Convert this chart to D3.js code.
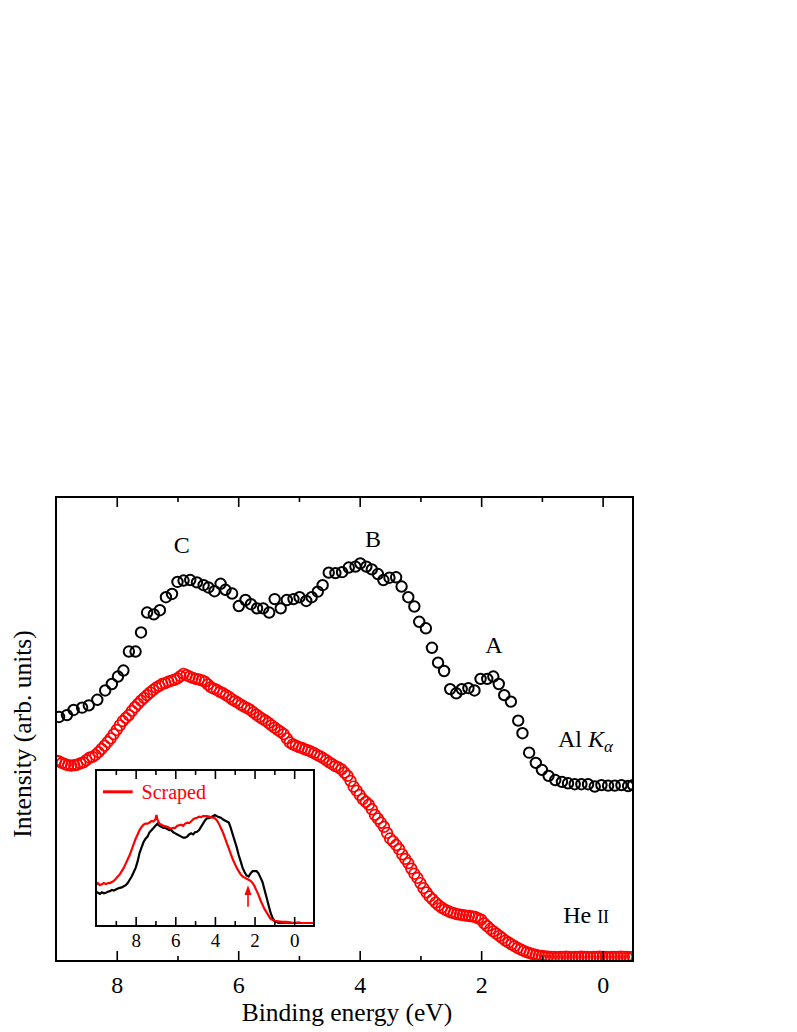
<!DOCTYPE html>
<html>
<head>
<meta charset="utf-8">
<script src="https://cdn.jsdelivr.net/npm/d3@7"></script>
<style>
body { margin: 0; background: #fff; }
svg text { font-family: "Liberation Serif", "Times New Roman", "DejaVu Serif", serif; }
</style>
</head>
<body>
<div id="chart"></div>
<script>
// Al K-alpha spectrum (open black circles): [binding energy eV, intensity]
var alKa = [[8.95,52.6],[8.82,53.0],[8.71,54.1],[8.57,54.6],[8.46,55.1],[8.32,56.3],[8.19,58.3],[8.08,59.7],[7.98,61.3],[7.89,62.6],
  [7.80,66.7],[7.69,66.7],[7.60,70.8],[7.50,75.1],[7.39,74.7],[7.29,75.6],[7.19,78.4],[7.09,79.1],[7.00,81.7],[6.90,82.0],
  [6.79,82.1],[6.68,81.6],[6.57,81.0],[6.49,80.5],[6.39,79.7],[6.29,81.3],[6.21,80.0],[6.10,79.2],[5.99,76.5],[5.88,77.8],
  [5.79,76.9],[5.69,76.0],[5.59,76.0],[5.49,75.1],[5.40,78.0],[5.30,76.0],[5.20,77.8],[5.09,78.0],[4.99,78.4],[4.88,77.6],
  [4.79,78.4],[4.69,79.6],[4.61,81.0],[4.51,83.7],[4.40,83.6],[4.29,83.8],[4.18,84.8],[4.07,85.0],[3.99,85.7],[3.89,85.0],
  [3.80,84.4],[3.70,83.4],[3.61,82.1],[3.51,82.6],[3.40,82.7],[3.31,80.7],[3.20,78.4],[3.10,76.4],[3.02,73.1],[2.91,71.7],
  [2.81,67.5],[2.71,64.3],[2.61,62.5],[2.51,58.6],[2.41,57.7],[2.32,58.6],[2.21,58.8],[2.11,58.3],[2.01,60.8],[1.90,60.8],
  [1.80,61.3],[1.71,59.7],[1.62,57.3],[1.51,55.9],[1.39,51.8],[1.32,49.1],[1.21,44.9],[1.10,42.7],[1.00,41.2],[0.89,39.9],
  [0.78,39.0],[0.67,38.6],[0.57,38.3],[0.46,38.1],[0.35,38.1],[0.24,38.1],[0.13,37.6],[0.02,37.9],[-0.09,37.8],[-0.20,37.8],
  [-0.31,37.9],[-0.42,37.7],[-0.50,37.9]];

// He II spectrum (open red circles)
var heII = [[9.00,43.2],[8.95,43.0],[8.90,42.7],[8.85,42.4],[8.80,42.2],[8.75,42.1],[8.70,42.2],[8.65,42.3],[8.60,42.6],[8.55,42.8],
  [8.50,43.3],[8.45,43.8],[8.40,44.0],[8.35,44.4],[8.30,45.0],[8.25,45.7],[8.20,46.4],[8.15,47.2],[8.10,48.0],[8.05,48.9],
  [8.00,49.8],[7.95,50.8],[7.90,51.7],[7.85,52.4],[7.80,53.0],[7.75,53.9],[7.70,54.7],[7.65,55.4],[7.60,56.1],[7.55,56.7],
  [7.50,57.3],[7.45,57.9],[7.40,58.4],[7.35,58.9],[7.30,59.3],[7.25,59.7],[7.20,59.9],[7.15,60.2],[7.10,60.4],[7.05,60.6],
  [7.00,60.9],[6.95,61.4],[6.90,61.9],[6.85,61.6],[6.80,61.3],[6.75,61.0],[6.70,60.8],[6.65,60.7],[6.60,60.5],[6.55,60.2],
  [6.50,59.6],[6.45,59.0],[6.40,58.7],[6.35,58.4],[6.30,58.0],[6.25,57.7],[6.20,57.3],[6.15,56.9],[6.10,56.4],[6.05,56.0],
  [6.00,55.6],[5.95,55.2],[5.90,54.8],[5.85,54.5],[5.80,54.1],[5.75,53.6],[5.70,53.1],[5.65,52.6],[5.60,52.2],[5.55,51.8],
  [5.50,51.3],[5.45,50.8],[5.40,50.3],[5.35,49.8],[5.30,49.4],[5.25,48.9],[5.20,48.0],[5.15,47.1],[5.10,46.7],[5.05,46.4],
  [5.00,46.1],[4.95,45.9],[4.90,45.6],[4.85,45.4],[4.80,45.1],[4.75,44.8],[4.70,44.4],[4.65,44.1],[4.60,43.7],[4.55,43.3],
  [4.50,42.8],[4.45,42.4],[4.40,42.0],[4.35,41.7],[4.30,41.3],[4.25,40.6],[4.20,39.9],[4.15,38.8],[4.10,37.6],[4.05,36.7],
  [4.00,35.8],[3.95,34.9],[3.90,34.3],[3.85,33.7],[3.80,32.7],[3.75,31.5],[3.70,30.7],[3.65,29.8],[3.60,28.9],[3.55,27.6],
  [3.50,26.4],[3.45,25.8],[3.40,25.0],[3.35,24.1],[3.30,23.0],[3.25,22.0],[3.20,21.1],[3.15,19.9],[3.10,18.8],[3.05,17.9],
  [3.00,16.8],[2.95,15.7],[2.90,14.8],[2.85,13.9],[2.80,13.3],[2.75,12.6],[2.70,12.0],[2.65,11.5],[2.60,11.1],[2.55,10.8],
  [2.50,10.5],[2.45,10.3],[2.40,10.1],[2.35,10.0],[2.30,9.9],[2.25,9.8],[2.20,9.7],[2.15,9.6],[2.10,9.5],[2.05,9.2],
  [2.00,8.9],[1.95,8.1],[1.90,7.5],[1.85,6.9],[1.80,6.4],[1.75,5.9],[1.70,5.4],[1.65,4.9],[1.60,4.4],[1.55,4.0],
  [1.50,3.6],[1.45,3.2],[1.40,2.8],[1.35,2.5],[1.30,2.2],[1.25,1.9],[1.20,1.7],[1.15,1.5],[1.10,1.3],[1.05,1.15],
  [1.00,1.1],[0.95,1.0],[0.90,0.95],[0.85,0.9],[0.80,0.9],[0.75,0.85],[0.70,0.9],[0.65,0.9],[0.60,0.95],[0.55,0.9],
  [0.50,0.85],[0.45,0.9],[0.40,0.9],[0.35,0.95],[0.30,0.9],[0.25,0.9],[0.20,0.85],[0.15,0.9],[0.10,0.9],[0.05,0.95],
  [0.00,0.9],[-0.05,0.9],[-0.10,0.85],[-0.15,0.9],[-0.20,0.9],[-0.25,0.9],[-0.30,0.95],[-0.35,0.9],[-0.40,0.9],[-0.45,0.85],
  [-0.50,0.9]];

// inset: normalised spectra
var insetBlack = [[10.0,0.29],[9.9,0.28],[9.8,0.27],[9.7,0.285],[9.6,0.275],[9.5,0.28],[9.4,0.29],[9.3,0.295],[9.2,0.305],[9.1,0.30],
  [9.0,0.31],[8.9,0.32],[8.8,0.325],[8.7,0.33],[8.6,0.34],[8.5,0.35],[8.4,0.37],[8.3,0.40],[8.2,0.43],[8.1,0.47],
  [8.0,0.51],[7.9,0.57],[7.8,0.65],[7.7,0.70],[7.6,0.75],[7.5,0.78],[7.4,0.80],[7.3,0.84],[7.2,0.86],[7.1,0.88],
  [7.0,0.90],[6.9,0.92],[6.8,0.90],[6.7,0.89],[6.6,0.88],[6.5,0.88],[6.4,0.87],[6.3,0.86],[6.2,0.86],[6.1,0.84],
  [6.0,0.83],[5.9,0.82],[5.8,0.81],[5.7,0.80],[5.6,0.79],[5.5,0.79],[5.4,0.80],[5.3,0.82],[5.2,0.83],[5.1,0.82],
  [5.0,0.84],[4.9,0.845],[4.8,0.86],[4.7,0.89],[4.6,0.92],[4.5,0.95],[4.4,0.97],[4.3,0.97],[4.2,0.98],[4.1,0.99],
  [4.0,1.0],[3.9,0.99],[3.8,0.98],[3.7,0.975],[3.6,0.96],[3.5,0.95],[3.4,0.94],[3.3,0.93],[3.2,0.88],[3.1,0.82],
  [3.0,0.76],[2.9,0.70],[2.8,0.63],[2.7,0.57],[2.6,0.51],[2.5,0.47],[2.4,0.44],[2.3,0.43],[2.2,0.46],[2.1,0.48],
  [2.0,0.48],[1.9,0.48],[1.8,0.46],[1.7,0.42],[1.6,0.38],[1.5,0.31],[1.4,0.24],[1.3,0.17],[1.2,0.10],[1.1,0.05],
  [1.0,0.02],[0.9,0.01],[0.8,0.0],[0.6,0.0],[0.4,0.005],[0.2,0.0],[0.0,0.0],[-0.2,0.0],[-0.4,0.0],[-0.6,0.0],
  [-0.8,0.0],[-1.0,0.0]];

var insetScraped = [[10.0,0.35],[9.9,0.37],[9.8,0.35],[9.7,0.36],[9.6,0.37],[9.5,0.36],[9.4,0.37],[9.3,0.37],[9.2,0.38],[9.1,0.39],
  [9.0,0.41],[8.9,0.43],[8.8,0.45],[8.7,0.48],[8.6,0.51],[8.5,0.55],[8.4,0.59],[8.3,0.63],[8.2,0.68],[8.1,0.73],
  [8.0,0.78],[7.9,0.82],[7.8,0.86],[7.7,0.89],[7.6,0.91],[7.5,0.92],[7.4,0.92],[7.3,0.93],[7.2,0.945],[7.1,0.94],
  [7.0,0.96],[6.95,1.0],[6.9,0.96],[6.8,0.92],[6.7,0.91],[6.6,0.90],[6.5,0.895],[6.4,0.89],[6.3,0.88],[6.2,0.875],
  [6.1,0.88],[6.0,0.88],[5.9,0.90],[5.8,0.905],[5.7,0.91],[5.6,0.90],[5.5,0.92],[5.4,0.93],[5.3,0.925],[5.2,0.94],
  [5.1,0.96],[5.0,0.97],[4.9,0.975],[4.8,0.985],[4.7,0.98],[4.6,0.99],[4.5,0.99],[4.4,0.99],[4.3,0.985],[4.2,0.98],
  [4.1,0.975],[4.0,0.97],[3.9,0.95],[3.8,0.92],[3.7,0.88],[3.6,0.84],[3.5,0.79],[3.4,0.74],[3.3,0.69],[3.2,0.64],
  [3.1,0.59],[3.0,0.55],[2.9,0.51],[2.8,0.48],[2.7,0.45],[2.6,0.43],[2.5,0.42],[2.4,0.41],[2.3,0.40],[2.2,0.39],
  [2.1,0.37],[2.0,0.34],[1.9,0.30],[1.8,0.26],[1.7,0.21],[1.6,0.17],[1.5,0.13],[1.4,0.10],[1.3,0.07],[1.2,0.04],
  [1.1,0.03],[1.0,0.02],[0.8,0.015],[0.6,0.01],[0.4,0.01],[0.2,0.005],[0.0,0.0],[-0.2,0.005],[-0.4,0.0],[-0.6,0.0],
  [-0.8,0.0],[-1.0,0.0]];

var majorTicks = [8, 6, 4, 2, 0];
var minorTicks = [7, 5, 3, 1];
var insetMajor = [8, 6, 4, 2, 0];
var insetMinor = [9, 7, 5, 3, 1];

// peak labels: [text, eV, intensity]
var peakLabels = [["C", 6.93, 87.9], ["B", 3.78, 89.2], ["A", 1.79, 66.4]];

var svg = d3.select("#chart").append("svg")
    .attr("width", 797).attr("height", 1032)
    .attr("font-family", "Liberation Serif, Times New Roman, serif");

var plot = {left: 56, right: 633, top: 497, bottom: 961};

var x = d3.scaleLinear().domain([9, -0.5]).range([plot.left, plot.right]);
var y = d3.scaleLinear().domain([0, 100]).range([plot.bottom, plot.top]);

svg.append("clipPath").attr("id", "clip")
  .append("rect")
    .attr("x", plot.left).attr("y", plot.top)
    .attr("width", plot.right - plot.left).attr("height", plot.bottom - plot.top);

var marks = svg.append("g").attr("clip-path", "url(#clip)");

marks.selectAll("circle.al")
    .data(alKa)
    .enter().append("circle")
    .attr("class", "al")
    .attr("cx", function(d) { return x(d[0]); })
    .attr("cy", function(d) { return y(d[1]); })
    .attr("r", 5.2)
    .style("fill", "none")
    .style("stroke", "#000")
    .style("stroke-width", 2);

marks.selectAll("circle.he")
    .data(heII)
    .enter().append("circle")
    .attr("class", "he")
    .attr("cx", function(d) { return x(d[0]); })
    .attr("cy", function(d) { return y(d[1]); })
    .attr("r", 5.3)
    .style("fill", "none")
    .style("stroke", "#f00")
    .style("stroke-width", 1.7);

// axes: ticks point inwards
function styleAxis(g) {
    g.attr("font-family", null);
    g.select(".domain").remove();
    g.selectAll(".tick line").attr("stroke", "#000").attr("stroke-width", 1.6);
    g.selectAll("text").attr("fill", "#000");
}

svg.append("g")
    .attr("transform", "translate(0," + plot.bottom + ")")
    .call(d3.axisBottom(x).tickValues(majorTicks).tickSize(-10).tickPadding(15).tickFormat(d3.format("d")))
    .call(styleAxis)
    .selectAll("text").style("font-size", "24px");

svg.append("g")
    .attr("transform", "translate(0," + plot.bottom + ")")
    .call(d3.axisBottom(x).tickValues(minorTicks).tickSize(-5).tickFormat(""))
    .call(styleAxis);

svg.append("g")
    .attr("transform", "translate(0," + plot.top + ")")
    .call(d3.axisTop(x).tickValues(majorTicks).tickSize(-10).tickFormat(""))
    .call(styleAxis);

svg.append("g")
    .attr("transform", "translate(0," + plot.top + ")")
    .call(d3.axisTop(x).tickValues(minorTicks).tickSize(-5).tickFormat(""))
    .call(styleAxis);

svg.append("rect")
    .attr("x", plot.left).attr("y", plot.top)
    .attr("width", plot.right - plot.left).attr("height", plot.bottom - plot.top)
    .style("fill", "none").style("stroke", "#000").style("stroke-width", 2);

// axis titles
svg.append("text")
    .attr("x", 347).attr("y", 1021)
    .attr("text-anchor", "middle")
    .style("font-size", "25.5px")
    .text("Binding energy (eV)");

svg.append("text")
    .attr("transform", "translate(31,734) rotate(-90)")
    .attr("text-anchor", "middle")
    .style("font-size", "25.5px")
    .text("Intensity (arb. units)");

// peak letters
svg.selectAll("text.peak")
    .data(peakLabels)
    .enter().append("text")
    .attr("class", "peak")
    .attr("x", function(d) { return x(d[1]); })
    .attr("y", function(d) { return y(d[2]); })
    .attr("text-anchor", "middle")
    .style("font-size", "24px")
    .text(function(d) { return d[0]; });

var alLabel = svg.append("text")
    .attr("x", x(0.735)).attr("y", y(46.2))
    .style("font-size", "24px");
alLabel.append("tspan").text("Al ");
alLabel.append("tspan").style("font-style", "italic").text("K");
alLabel.append("tspan").style("font-style", "italic").style("font-size", "17px")
    .attr("dy", 5).text("\u03b1");

var heLabel = svg.append("text")
    .attr("x", x(0.65)).attr("y", y(8.2))
    .style("font-size", "24px");
heLabel.append("tspan").text("He ");
heLabel.append("tspan").style("font-size", "18px").text("II");

// ---- inset ----
var inset = {left: 96, right: 314, top: 770, bottom: 926};
var xIn = d3.scaleLinear().domain([10, -1]).range([inset.left, inset.right]);
var yIn = d3.scaleLinear().domain([-0.028, 1.417]).range([inset.bottom, inset.top]);

svg.append("rect")
    .attr("x", inset.left).attr("y", inset.top)
    .attr("width", inset.right - inset.left).attr("height", inset.bottom - inset.top)
    .style("fill", "#fff");

var line = d3.line()
    .x(function(d) { return xIn(d[0]); })
    .y(function(d) { return yIn(d[1]); });

svg.append("path").datum(insetBlack)
    .attr("d", line)
    .style("fill", "none").style("stroke", "#000").style("stroke-width", 2.2);

svg.append("path").datum(insetScraped)
    .attr("d", line)
    .style("fill", "none").style("stroke", "#f00").style("stroke-width", 2.2);

svg.append("g")
    .attr("transform", "translate(0," + inset.bottom + ")")
    .call(d3.axisBottom(xIn).tickValues(insetMajor).tickSize(-9).tickPadding(8).tickFormat(d3.format("d")))
    .call(styleAxis)
    .selectAll("text").style("font-size", "19px");

svg.append("g")
    .attr("transform", "translate(0," + inset.bottom + ")")
    .call(d3.axisBottom(xIn).tickValues(insetMinor).tickSize(-5).tickFormat(""))
    .call(styleAxis);

svg.append("g")
    .attr("transform", "translate(0," + inset.top + ")")
    .call(d3.axisTop(xIn).tickValues(insetMajor).tickSize(-9).tickFormat(""))
    .call(styleAxis);

svg.append("g")
    .attr("transform", "translate(0," + inset.top + ")")
    .call(d3.axisTop(xIn).tickValues(insetMinor).tickSize(-5).tickFormat(""))
    .call(styleAxis);

svg.append("rect")
    .attr("x", inset.left).attr("y", inset.top)
    .attr("width", inset.right - inset.left).attr("height", inset.bottom - inset.top)
    .style("fill", "none").style("stroke", "#000").style("stroke-width", 2);

// legend
svg.append("line")
    .attr("x1", xIn(9.65)).attr("x2", xIn(8.15))
    .attr("y1", yIn(1.215)).attr("y2", yIn(1.215))
    .style("stroke", "#f00").style("stroke-width", 3);

svg.append("text")
    .attr("x", xIn(7.7)).attr("y", yIn(1.145))
    .style("font-size", "20px").style("fill", "#f00")
    .text("Scraped");

// red arrow marking the shoulder
var arrowE = 2.33;
svg.append("line")
    .attr("x1", xIn(arrowE)).attr("x2", xIn(arrowE))
    .attr("y1", yIn(0.15)).attr("y2", yIn(0.28))
    .style("stroke", "#f00").style("stroke-width", 1.6);

svg.append("path")
    .attr("d", "M" + xIn(arrowE) + "," + yIn(0.35) +
               "L" + (xIn(arrowE) - 3.5) + "," + yIn(0.26) +
               "L" + (xIn(arrowE) + 3.5) + "," + yIn(0.26) + "Z")
    .style("fill", "#f00");
</script>
</body>
</html>
